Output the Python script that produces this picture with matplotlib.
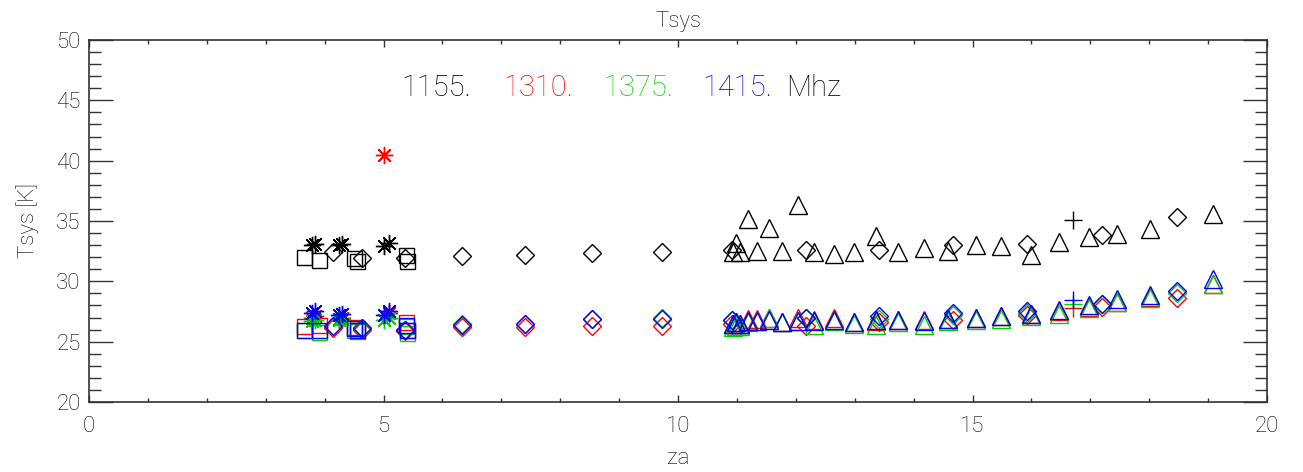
import numpy as np
import matplotlib
matplotlib.use('Agg')
import matplotlib.pyplot as plt
from matplotlib.ticker import MultipleLocator

plt.rcParams['font.family'] = ['Roboto', 'DejaVu Sans']
plt.rcParams['font.weight'] = 'light'
plt.rcParams['axes.titleweight'] = 'light'
plt.rcParams['axes.labelweight'] = 'light'

freqs = ['1155.', '1310.', '1375.', '1415.']
colors = ['black', '#ff0000', '#00d000', '#0000ff']

# asterisks
za_ast = [3.78, 3.84, 4.24, 4.30, 5.00, 5.10]
ts_ast = [[33.0, 33.1, 33.0, 33.1, 32.9, 33.2],
          [27.0, 27.1, 26.9, 27.0, 40.5, 27.4],
          [26.7, 26.8, 26.8, 26.9, 26.8, 27.0],
          [27.4, 27.5, 27.2, 27.3, 27.2, 27.5]]

# squares
za_sq = [3.65, 3.90, 4.50, 4.55, 5.38, 5.40]
ts_sq = [[32.0, 31.8, 31.9, 31.7, 32.2, 31.7],
         [26.3, 26.4, 26.2, 26.1, 26.6, 26.0],
         [26.0, 25.8, 26.0, 25.9, 26.3, 25.7],
         [26.0, 26.0, 26.1, 26.0, 26.4, 26.0]]

# diamonds
za_dm = [4.15, 4.63, 5.36, 6.33, 7.40, 8.54, 9.72, 10.92, 12.17, 13.41, 14.67, 15.93, 17.19, 18.47]
ts_dm = [[32.4, 31.9, 31.9, 32.1, 32.15, 32.35, 32.4, 32.6, 32.6, 32.6, 33.05, 33.1, 33.85, 35.3],
         [26.1, 26.0, 25.9, 26.2, 26.2, 26.3, 26.3, 26.5, 26.3, 26.6, 26.8, 27.2, 27.9, 28.6],
         [26.3, 26.1, 26.0, 26.45, 26.5, 26.9, 27.0, 26.8, 27.0, 26.9, 27.2, 27.4, 28.1, 29.0],
         [26.3, 26.1, 26.0, 26.4, 26.45, 26.85, 26.9, 26.8, 27.0, 27.1, 27.35, 27.5, 28.15, 29.2]]

# triangles
za_tr = [10.93, 10.98, 11.05, 11.19, 11.34, 11.55, 11.76, 12.03, 12.31, 12.65, 12.98, 13.36,
         13.73, 14.18, 14.58, 15.06, 15.49, 16.0, 16.46, 16.98, 17.46, 18.01, 19.08]
ts_tr = [[32.4, 33.2, 32.4, 35.2, 32.5, 34.4, 32.5, 36.3, 32.4, 32.3, 32.45, 33.75,
          32.45, 32.8, 32.55, 33.0, 32.9, 32.2, 33.3, 33.65, 33.9, 34.3, 35.6],
         [26.5, 26.6, 26.5, 26.9, 26.9, 27.0, 26.6, 27.0, 26.8, 27.0, 26.6, 26.7,
          26.8, 26.8, 26.9, 27.0, 27.1, 27.3, 27.5, 27.9, 28.3, 28.7, 29.8],
         [26.2, 26.3, 26.3, 26.6, 26.7, 27.0, 26.6, 26.7, 26.4, 26.7, 26.5, 26.4,
          26.6, 26.4, 26.7, 26.8, 26.9, 27.1, 27.3, 27.8, 28.3, 28.6, 29.8],
         [26.5, 26.6, 26.5, 26.7, 26.7, 26.8, 26.6, 26.7, 26.7, 26.8, 26.6, 26.8,
          26.8, 26.7, 26.9, 27.0, 27.1, 27.3, 27.6, 28.0, 28.5, 28.9, 30.2]]

# plus
za_pl = [16.71]
ts_pl = [[35.1], [27.8], [28.1], [28.45]]

fig = plt.figure(figsize=(13.03, 4.72), dpi=100)
ax = fig.add_axes([0.0683, 0.1483, 0.9041, 0.767])

lw = 1.0
for i in range(4):
    c = colors[i]
    ax.plot(za_sq, ts_sq[i], ls='none', marker='s', ms=10.8, mfc='none', mec=c, mew=lw)
    ax.plot(za_dm, ts_dm[i], ls='none', marker='D', ms=8.8, mfc='none', mec=c, mew=lw)
    ax.plot(za_tr, ts_tr[i], ls='none', marker='^', ms=12.4, mfc='none', mec=c, mew=lw)
    ax.plot(za_ast, ts_ast[i], ls='none', marker=(8, 2, 0), ms=12.4, mec=c, mew=lw)
    ax.plot(za_pl, ts_pl[i], ls='none', marker='+', ms=12.4, mec=c, mew=lw)

ax.set_xlim(0, 20)
ax.set_ylim(20, 50)
ax.xaxis.set_major_locator(MultipleLocator(5))
ax.xaxis.set_minor_locator(MultipleLocator(1))
ax.yaxis.set_major_locator(MultipleLocator(5))
ax.yaxis.set_minor_locator(MultipleLocator(1))
ax.tick_params(axis='both', which='both', direction='in', top=True, right=True,
               colors='#333333', labelcolor='black', labelsize=16, width=1.0)
ax.tick_params(axis='x', which='major', length=5.2, pad=10)
ax.tick_params(axis='x', which='minor', length=2.6)
ax.tick_params(axis='y', which='major', length=17, pad=6)
ax.tick_params(axis='y', which='minor', length=8.5)
for s in ax.spines.values():
    s.set_color('#333333')
    s.set_linewidth(1.2)

ax.set_title('Tsys', fontsize=16, color='black', pad=9, fontweight='light')
ax.set_xlabel('za', fontsize=16, color='black', labelpad=8, fontweight='light')
ax.set_ylabel('Tsys [K]', fontsize=16, color='black', labelpad=12, fontweight='light')

# frequency labels
lab_x = [5.30, 7.03, 8.73, 10.41]
for i in range(4):
    ax.text(lab_x[i], 46.0, freqs[i], color=colors[i], fontsize=21, va='center', ha='left')
ax.text(11.83, 46.0, 'Mhz', color='black', fontsize=21, va='center', ha='left')

fig.savefig('out.png', dpi=100)
